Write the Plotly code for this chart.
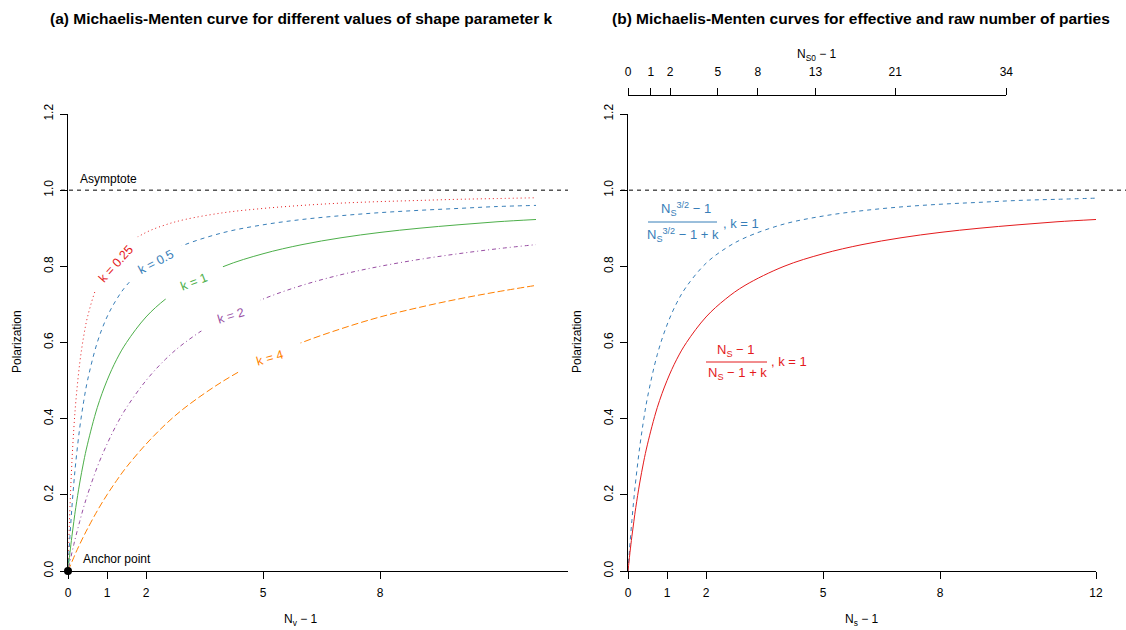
import plotly.graph_objects as go

# ---------------- data ----------------
X_VALS = [0, 0.025, 0.05, 0.1, 0.15, 0.2, 0.3, 0.4, 0.5, 0.75, 1, 1.25, 1.5, 2, 2.5, 3, 4, 5, 6, 7, 8, 9, 10, 11, 12]

K_LABELS = ["0.25", "0.5", "1", "2", "4"]
Y_K025 = [0, 0.091, 0.167, 0.286, 0.375, 0.444, 0.545, 0.615, 0.667, 0.750, 0.800, 0.833, 0.857, 0.889, 0.909, 0.923, 0.941, 0.952, 0.960, 0.966, 0.970, 0.973, 0.976, 0.978, 0.980]
Y_K05 = [0, 0.048, 0.091, 0.167, 0.231, 0.286, 0.375, 0.444, 0.500, 0.600, 0.667, 0.714, 0.750, 0.800, 0.833, 0.857, 0.889, 0.909, 0.923, 0.933, 0.941, 0.947, 0.952, 0.957, 0.960]
Y_K1 = [0, 0.024, 0.048, 0.091, 0.130, 0.167, 0.231, 0.286, 0.333, 0.429, 0.500, 0.556, 0.600, 0.667, 0.714, 0.750, 0.800, 0.833, 0.857, 0.875, 0.889, 0.900, 0.909, 0.917, 0.923]
Y_K2 = [0, 0.012, 0.024, 0.048, 0.070, 0.091, 0.130, 0.167, 0.200, 0.273, 0.333, 0.385, 0.429, 0.500, 0.556, 0.600, 0.667, 0.714, 0.750, 0.778, 0.800, 0.818, 0.833, 0.846, 0.857]
Y_K4 = [0, 0.006, 0.012, 0.024, 0.036, 0.048, 0.070, 0.091, 0.111, 0.158, 0.200, 0.238, 0.273, 0.333, 0.385, 0.429, 0.500, 0.556, 0.600, 0.636, 0.667, 0.692, 0.714, 0.733, 0.750]

# right panel
Y_RAW = [0, 0.024, 0.048, 0.091, 0.130, 0.167, 0.231, 0.286, 0.333, 0.429, 0.500, 0.556, 0.600, 0.667, 0.714, 0.750, 0.800, 0.833, 0.857, 0.875, 0.889, 0.900, 0.909, 0.917, 0.923]
Y_EFF = [0, 0.036, 0.071, 0.133, 0.189, 0.239, 0.325, 0.396, 0.456, 0.568, 0.646, 0.704, 0.747, 0.808, 0.847, 0.875, 0.911, 0.932, 0.946, 0.956, 0.963, 0.968, 0.973, 0.976, 0.979]

ASYMPTOTE = 1.0
ANCHOR_X = [0]
ANCHOR_Y = [0]

LEFT_XTICKS = [0, 1, 2, 5, 8]
RIGHT_XTICKS = [0, 1, 2, 5, 8, 12]
TOP_TICKS = [0, 1, 2, 5, 8, 13, 21, 34]
Y_TICKS = [0, 0.2, 0.4, 0.6, 0.8, 1.0, 1.2]

# ---------------- layout helpers ----------------
W, H = 1126, 630
def px(x):
    return x / W
def py(y):
    return 1 - y / H

FONT = "Liberation Sans, Arial, Helvetica, sans-serif"
RED, BLUE, GREEN, PURPLE, ORANGE = "#E41A1C", "#377EB8", "#4DAF4A", "#984EA3", "#FF7F00"
DASHED = "4px,4px"
DOTTED = "1px,3px"
DOTDASH = "1px,3px,4px,3px"
LONGDASH = "7px,3px"

PX_PER_UNIT = (1096 - 628) / 12.0
LEFT_XMAX = (568 - 68) / PX_PER_UNIT
# top axis: N_S0 - 1 where N_S0 = N_S^(3/2)  ->  position in N_S - 1 units
top_pos = [(t + 1) ** (2.0 / 3.0) - 1 for t in TOP_TICKS]
TOP_MAX = top_pos[-1]

fig = go.Figure()

series = [
    (Y_K025, RED, DOTTED),
    (Y_K05, BLUE, DASHED),
    (Y_K1, GREEN, "solid"),
    (Y_K2, PURPLE, DOTDASH),
    (Y_K4, ORANGE, LONGDASH),
]
for (ys, col, dash), lab in zip(series, K_LABELS):
    fig.add_trace(go.Scatter(x=X_VALS, y=ys, mode="lines", name="k = " + lab,
                             line=dict(color=col, width=1, dash=dash, shape="spline", smoothing=1),
                             xaxis="x", yaxis="y", cliponaxis=False, hoverinfo="skip"))

fig.add_trace(go.Scatter(x=ANCHOR_X, y=ANCHOR_Y, mode="markers", marker=dict(color="black", size=8),
                         xaxis="x", yaxis="y", cliponaxis=False, hoverinfo="skip"))

fig.add_trace(go.Scatter(x=X_VALS, y=Y_EFF, mode="lines",
                         line=dict(color=BLUE, width=1, dash=DASHED, shape="spline", smoothing=1),
                         xaxis="x2", yaxis="y2", cliponaxis=False, hoverinfo="skip"))
fig.add_trace(go.Scatter(x=X_VALS, y=Y_RAW, mode="lines",
                         line=dict(color=RED, width=1, shape="spline", smoothing=1),
                         xaxis="x2", yaxis="y2", cliponaxis=False, hoverinfo="skip"))
# invisible trace to realise the top axis
fig.add_trace(go.Scatter(x=[0], y=[0], mode="markers", marker=dict(opacity=0),
                         xaxis="x3", yaxis="y2", hoverinfo="skip"))

ydom = [py(571), py(114)]
axis_common = dict(showgrid=False, zeroline=False, showline=True, linecolor="black", linewidth=1,
                   ticks="outside", ticklen=7, tickcolor="black", tickwidth=1,
                   tickfont=dict(family=FONT, size=12, color="black"))

fig.update_layout(
    width=W, height=H, margin=dict(l=0, r=0, t=0, b=0, autoexpand=False),
    paper_bgcolor="white", plot_bgcolor="rgba(0,0,0,0)", showlegend=False,
    font=dict(family=FONT, size=12, color="black"),
    xaxis=dict(domain=[px(68), px(568)], range=[0, LEFT_XMAX], anchor="y",
               tickvals=LEFT_XTICKS, ticklabelstandoff=4, **axis_common),
    yaxis=dict(domain=ydom, range=[0, 1.2], anchor="x", tickvals=Y_TICKS, tickformat=".1f",
               tickangle=-90, ticklabelstandoff=2, **axis_common),
    xaxis2=dict(domain=[px(628), px(1096)], range=[0, 12], anchor="y2",
                tickvals=RIGHT_XTICKS, ticklabelstandoff=4, **axis_common),
    yaxis2=dict(domain=ydom, range=[0, 1.2], anchor="x2", tickvals=Y_TICKS, tickformat=".1f",
                tickangle=-90, ticklabelstandoff=2, **axis_common),
    xaxis3=dict(domain=[px(628), px(628 + PX_PER_UNIT * TOP_MAX)], range=[0, TOP_MAX],
                anchor="free", position=py(95), side="top", ticklabelstandoff=7,
                tickvals=top_pos, ticktext=[str(t) for t in TOP_TICKS], **axis_common),
)

shapes = [
    dict(type="line", xref="paper", yref="y", x0=px(61), x1=px(568), y0=ASYMPTOTE, y1=ASYMPTOTE,
         line=dict(color="black", width=1, dash=DASHED)),
    dict(type="line", xref="paper", yref="y2", x0=px(621), x1=px(1126), y0=ASYMPTOTE, y1=ASYMPTOTE,
         line=dict(color="black", width=1, dash=DASHED)),
    # fraction bars
    dict(type="line", xref="paper", yref="paper", x0=px(648), x1=px(717), y0=py(222), y1=py(222),
         line=dict(color=BLUE, width=1)),
    dict(type="line", xref="paper", yref="paper", x0=px(706), x1=px(767), y0=py(362), y1=py(362),
         line=dict(color=RED, width=1)),
]
fig.update_layout(shapes=shapes)

ann = []
def text(x, y, s, size=12, color="black", xanchor="center", angle=0, bold=False, **kw):
    d = dict(x=x, y=y, xref="paper", yref="paper", text=("<b>%s</b>" % s) if bold else s,
             showarrow=False, xanchor=xanchor, yanchor="middle", textangle=angle,
             font=dict(family=FONT, size=size, color=color))
    d.update(kw)
    ann.append(d)

text(px(301), py(18), "(a) Michaelis-Menten curve for different values of shape parameter k", size=15.5, bold=True)
text(px(861), py(18), "(b) Michaelis-Menten curves for effective and raw number of parties", size=15.5, bold=True)
text(px(17), py(342), "Polarization", angle=-90)
text(px(577), py(342), "Polarization", angle=-90)
text(px(301), py(620), "N<sub>v</sub> − 1")
text(px(862), py(620), "N<sub>s</sub> − 1")
text(px(817), py(55), "N<sub>S0</sub> − 1")
text(px(78), py(179), "Asymptote", xanchor="left")
text(px(81), py(559), "Anchor point", xanchor="left")

# blue fraction label
text(px(686), py(209), "N<sub>S</sub><sup>3/2</sup> − 1", size=13, color=BLUE)
text(px(683), py(235), "N<sub>S</sub><sup>3/2</sup> − 1 + k", size=13, color=BLUE)
text(px(721), py(223), ", k = 1", size=13, color=BLUE, xanchor="left")
# red fraction label
text(px(736), py(350), "N<sub>S</sub> − 1", size=13, color=RED)
text(px(737), py(373), "N<sub>S</sub> − 1 + k", size=13, color=RED)
text(px(769), py(361), ", k = 1", size=13, color=RED, xanchor="left")

# curve labels sitting in gaps of the curves
k_label_pos = [  # (x, y, angle, width, colour)
    (1.23, 0.806, -48, 64, RED),
    (2.26, 0.811, -28, 56, BLUE),
    (3.23, 0.759, -21, 60, GREEN),
    (4.18, 0.669, -17, 60, PURPLE),
    (5.18, 0.559, -16, 62, ORANGE),
]
for lab, (x, y, ang, w, col) in zip(K_LABELS, k_label_pos):
    ann.append(dict(x=x, y=y, xref="x", yref="y", text="k = " + lab, showarrow=False,
                    textangle=ang, bgcolor="white", width=w, borderpad=2,
                    font=dict(family=FONT, size=12.5, color=col)))

fig.update_layout(annotations=ann)
fig.write_html("out.html", config={"displayModeBar": False},
               post_script="document.body.style.margin='0';document.body.style.padding='0';")
